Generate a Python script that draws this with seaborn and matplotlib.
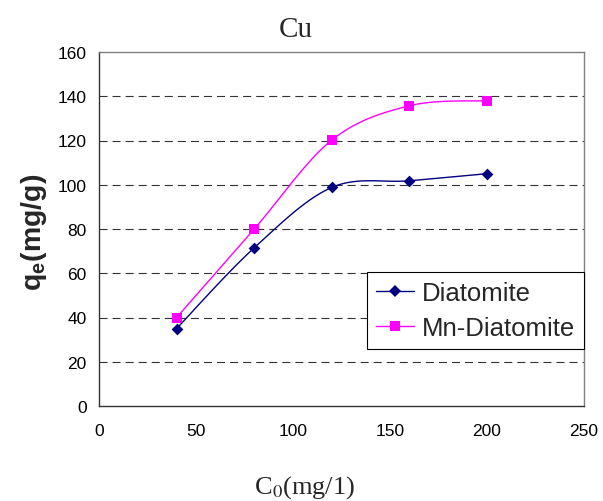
import numpy as np
import pandas as pd
import matplotlib
matplotlib.use("Agg")
import matplotlib.pyplot as plt
import seaborn as sns
from matplotlib.lines import Line2D

# ---- data ----
c0 = [40, 80, 120, 160, 200]
diatomite = [35, 71.5, 98.8, 101.8, 105]
mn_diatomite = [40, 80, 120.2, 135.7, 138]
series_names = ["Diatomite", "Mn-Diatomite"]
x_ticks = [0, 50, 100, 150, 200, 250]
y_ticks = [0, 20, 40, 60, 80, 100, 120, 140, 160]

sns.set_style("white")
plt.rcParams["font.family"] = ["Liberation Sans", "DejaVu Sans"]
plt.rcParams["mathtext.fontset"] = "custom"
plt.rcParams["mathtext.rm"] = "Liberation Sans"
plt.rcParams["mathtext.bf"] = "Liberation Sans:bold"
plt.rcParams["lines.scale_dashes"] = False


def smooth(xs, ys, n=30):
    """Excel-like smoothed line (Catmull-Rom Bezier) through the data points."""
    P = np.column_stack([xs, ys]).astype(float)
    P = np.vstack([P[0], P, P[-1]])
    out = []
    t = np.linspace(0, 1, n)[:, None]
    for i in range(1, len(P) - 2):
        p0, p1, p2, p3 = P[i - 1], P[i], P[i + 1], P[i + 2]
        c1 = p1 + (p2 - p0) / 6
        c2 = p2 - (p3 - p1) / 6
        seg = ((1 - t) ** 3) * p1 + 3 * ((1 - t) ** 2) * t * c1 + 3 * (1 - t) * t ** 2 * c2 + t ** 3 * p2
        out.append(seg if i == 1 else seg[1:])
    out = np.vstack(out)
    return out[:, 0], out[:, 1]


fig = plt.figure(figsize=(6.03, 5.02), dpi=100)
ax = fig.add_axes([99 / 603, 95 / 502, 485 / 603, 354 / 502])

colors = ["#000080", "#FF00FF"]
markers = ["D", "s"]
msizes = [6, 7]
for name, ys, col, mk, ms in zip(series_names, [diatomite, mn_diatomite], colors, markers, msizes):
    sx, sy = smooth(c0, ys)
    df = pd.DataFrame({"x": sx, "y": sy})
    sns.lineplot(data=df, x="x", y="y", ax=ax, color=col, linewidth=1.0,
                 sort=False, estimator=None, zorder=3)
    dp = pd.DataFrame({"x": c0, "y": ys})
    sns.scatterplot(data=dp, x="x", y="y", ax=ax, color=col, marker=mk,
                    s=ms ** 2, linewidth=0, zorder=4)

ax.set_xlim(0, 250)
ax.set_ylim(0, 160)
ax.set_xticks(x_ticks)
ax.set_yticks(y_ticks)
for yv in y_ticks[1:-1]:
    ax.axhline(yv, color="#333333", linewidth=0.8, dashes=(5.8, 3.6), zorder=1)

ax.set_xlabel("")
ax.set_ylabel("")
ax.tick_params(axis="both", direction="out", length=4, width=0.8, color="black",
               labelsize=12.5, labelcolor="black")
ax.tick_params(axis="x", pad=8)
ax.tick_params(axis="y", pad=5)

for s in ["left", "bottom"]:
    ax.spines[s].set_color("#333333")
    ax.spines[s].set_linewidth(1.0)
for s in ["top", "right"]:
    ax.spines[s].set_color("#808080")
    ax.spines[s].set_linewidth(1.0)

handles = [
    Line2D([], [], color=colors[0], marker="D", markersize=6, markeredgewidth=0, linewidth=1.0),
    Line2D([], [], color=colors[1], marker="s", markersize=7, markeredgewidth=0, linewidth=1.0),
]
leg = ax.legend(handles, series_names, loc="upper right", bbox_to_anchor=(1.0, 0.3785),
                borderaxespad=0, fontsize=18.5, frameon=True, fancybox=False,
                edgecolor="black", framealpha=1, handlelength=1.5, handletextpad=0.3,
                borderpad=0.35, labelspacing=0.42)
leg.get_frame().set_linewidth(0.8)

fig.text(0.49, 1 - 37 / 502, "Cu", family="Liberation Serif", fontsize=21,
         ha="center", va="baseline")
fig.text(305 / 603, 1 - 494 / 502, r"C$_0$(mg/1)", family="Liberation Serif",
         fontsize=19, ha="center", va="baseline", math_fontfamily="stix")
fig.text(34 / 603, 1 - 232 / 502, r"q$_\mathbf{e}$(mg/g)", family="Liberation Sans",
         fontweight="bold", fontsize=20.5, rotation=90, ha="center", va="center",
         math_fontfamily="custom")

fig.savefig("out.png", dpi=100)
